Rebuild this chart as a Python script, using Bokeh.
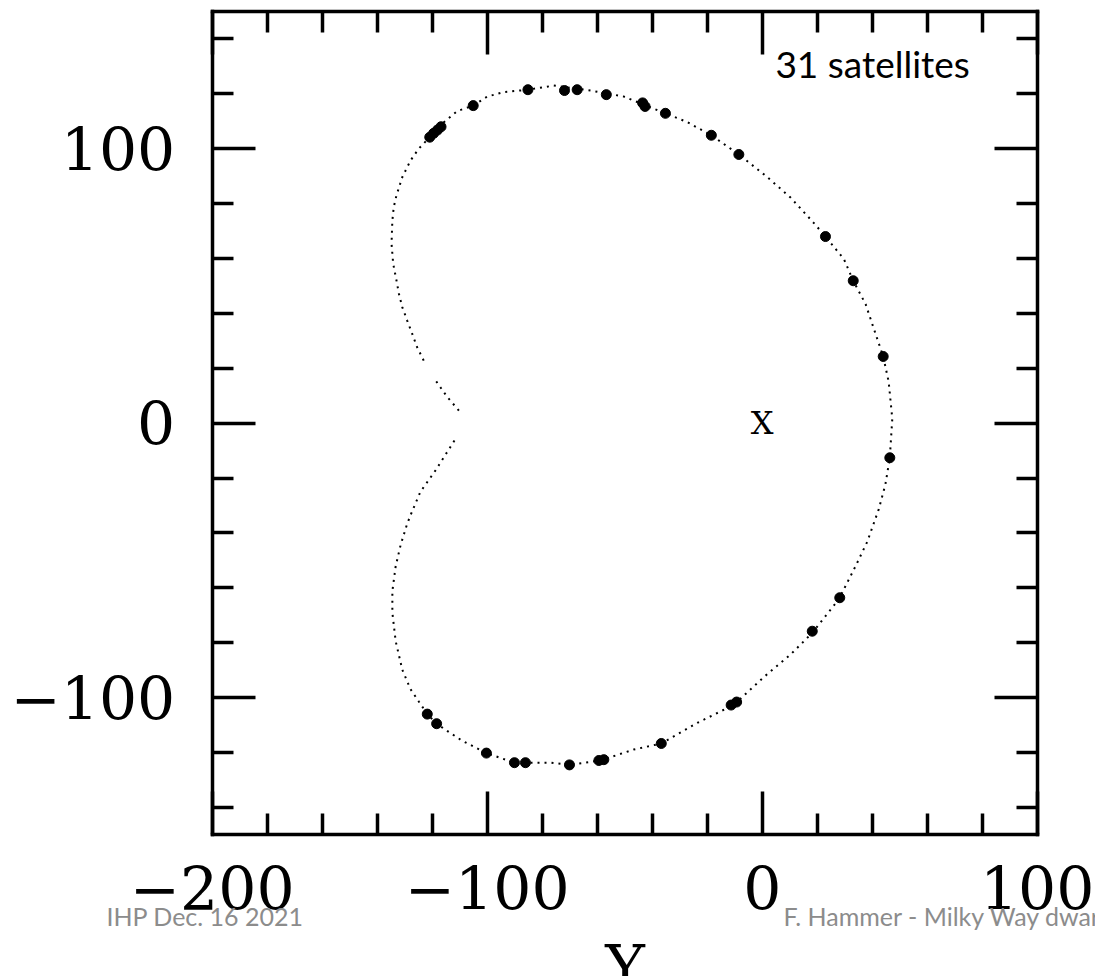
import numpy as np
from bokeh.plotting import figure
from bokeh.models import Range1d, LinearAxis, FixedTicker, Label, ColumnDataSource
from bokeh.embed import file_html
from bokeh.resources import INLINE
from bokeh.core.properties import value

# Projected orbit path (kpc); NaN marks a break in the sampled points
orbit_x = [-110.3, -114.5, -118.8, np.nan, -123.1, -125.5, -127.3, -129.1, -130.9,
           -132.1, -133.0, -134.2, -134.8, -134.5, -134.0, -133.0, -130.9, -127.9,
           -124.9, -120.9, -116.4, -110.9, -105.1, -100.0, -94.0, -85.2, -75.8,
           -62.4, -50.3, -43.2, -35.2, -27.3, -18.5, -8.5, 1.8, 10.3, 18.8, 23.0,
           29.7, 33.1, 37.6, 40.6, 44.0, 46.0, 47.3, 46.4, 44.8, 42.4, 38.2, 33.9,
           27.9, 18.2, 10.3, 0.6, -10.3, -23.6, -36.7, -46.7, -58.5, -70.1, -77.0,
           -86.1, -90.1, -100.3, -109.1, -114.0, -118.4, -121.8, -124.9, -127.9,
           -130.9, -133.3, -134.5, -134.5, -133.3, -131.5, -129.1, -127.3, -124.3,
           -118.8, -111.2]
orbit_y = [4.6, 9.5, 15.6, np.nan, 22.8, 27.7, 32.6, 37.4, 42.3,
           47.1, 52.0, 58.1, 65.4, 73.8, 78.7, 83.0, 89.6, 95.7,
           100.0, 104.2, 109.1, 113.7, 115.7, 119.0, 120.6, 121.5, 123.0,
           121.2, 119.0, 116.1, 112.9, 109.7, 104.9, 97.9, 89.7, 82.2, 72.9, 68.0,
           59.8, 51.9, 43.4, 34.4, 24.3, 15.0, 1.6, -12.6, -22.3, -31.3, -43.2, -52.2,
           -64.1, -76.4, -84.3, -92.5, -102.6, -109.2, -116.7, -118.9, -122.8, -124.5, -123.7,
           -123.7, -123.7, -120.2, -115.7, -112.5, -109.5, -106.0, -101.4, -96.9,
           -89.8, -79.4, -69.0, -61.2, -52.2, -44.4, -36.6, -32.1, -25.0,
           -17.2, -5.2]

# Satellite positions along the orbit
sat_x = [-120.9, -119.5, -118.1, -116.8, -105.1, -85.2, -71.9, -67.3, -56.7, -43.5,
         -42.6, -35.2, -18.5, -8.5, 23.0, 33.1, 44.0, 46.4, 28.2, 18.2,
         -11.3, -9.3, -36.7, -59.4, -57.6, -70.1, -86.1, -90.1, -100.3, -118.4, -121.8]
sat_y = [104.2, 105.6, 106.8, 108.0, 115.7, 121.5, 121.2, 121.5, 119.7, 116.7,
         115.4, 112.9, 104.9, 97.9, 68.0, 51.9, 24.3, -12.6, -63.6, -75.8,
         -102.7, -101.6, -116.7, -122.9, -122.6, -124.5, -123.7, -123.7, -120.2, -109.5, -106.0]

# Galactic centre marker
centre_x = [0]
centre_y = [0]
centre_text = ["X"]

# Box limits and ticks
x_box = (-200, 100)
y_box = (-150, 150)
x_major = [-200, -100, 0, 100]
x_minor = [-180, -160, -140, -120, -80, -60, -40, -20, 20, 40, 60, 80]
y_major = [-100, 0, 100]
y_minor = [-140, -120, -80, -60, -40, -20, 20, 40, 60, 80, 120, 140]
x_labels = {-200: "\u2212200", -100: "\u2212100", 0: "0", 100: "100"}
y_labels = {-100: "\u2212100", 0: "0", 100: "100"}
x_title = "Y"

n_label = "31 satellites"
footer_left = "IHP Dec. 16 2021"
footer_right = "F. Hammer - Milky Way dwarfs"

# The frame spans the whole canvas; the boxed axes sit at fixed locations inside it
p = figure(width=1095, height=976,
           x_range=Range1d(-277.0, 121.2), y_range=Range1d(-201.6, 154.0),
           output_backend="svg", toolbar_location=None,
           x_axis_location=None, y_axis_location=None, min_border=0)
p.outline_line_color = None
p.background_fill_color = "white"
p.border_fill_color = "white"
for g in p.grid:
    g.visible = False

TICK_FONT = "DejaVu Serif"


def make_axis(ticks, minor, bounds, loc, labels=None):
    ax = LinearAxis(ticker=FixedTicker(ticks=ticks, minor_ticks=minor),
                    bounds=bounds, fixed_location=loc)
    ax.axis_line_width = 3.5
    ax.axis_line_color = "black"
    ax.axis_line_cap = "square"
    ax.major_tick_line_width = 3.5
    ax.minor_tick_line_width = 3.5
    ax.major_tick_line_color = "black"
    ax.minor_tick_line_color = "black"
    ax.major_tick_in = 43
    ax.major_tick_out = 0
    ax.minor_tick_in = 21
    ax.minor_tick_out = 0
    ax.major_label_text_font = TICK_FONT
    ax.major_label_text_font_size = "60px"
    if labels is not None:
        ax.major_label_overrides = labels
        ax.major_label_text_color = "black"
    else:
        ax.major_label_text_color = None
    return ax


bottom = make_axis(x_major, x_minor, x_box, y_box[0], x_labels)
bottom.major_label_standoff = 31
bottom.axis_label = x_title
bottom.axis_label_text_font = TICK_FONT
bottom.axis_label_text_font_size = "60px"
bottom.axis_label_text_font_style = "normal"
bottom.axis_label_text_color = "black"
bottom.axis_label_standoff = 19

top = make_axis(x_major, x_minor, x_box, y_box[1])
left = make_axis(y_major, y_minor, y_box, x_box[0], y_labels)
left.major_label_standoff = 37
right = make_axis(y_major, y_minor, y_box, x_box[1])

p.add_layout(bottom, "below")
p.add_layout(top, "above")
p.add_layout(left, "left")
p.add_layout(right, "right")

orbit = ColumnDataSource(dict(x=np.array(orbit_x, dtype=float), y=np.array(orbit_y, dtype=float)))
p.line("x", "y", source=orbit, line_color="black", line_width=2,
       line_dash="2 5", line_cap="butt")

sats = ColumnDataSource(dict(x=sat_x, y=sat_y))
p.scatter("x", "y", source=sats, marker="circle", size=10,
          fill_color="black", line_color="black")

centre = ColumnDataSource(dict(x=centre_x, y=centre_y, t=centre_text))
p.text("x", "y", text="t", source=centre, text_font=value(TICK_FONT),
       text_font_size="32px", text_align="center", text_baseline="middle",
       text_color="black")

p.add_layout(Label(x=4.8, y=131.0, text=n_label, text_font="Lato",
                   text_font_size="37px", text_color="black",
                   text_baseline="alphabetic"))

p.add_layout(Label(x=106, y=61, x_units="screen", y_units="screen", text=footer_left,
                   text_font="Lato", text_font_size="25px", text_color="#8c8c8c",
                   text_baseline="alphabetic"))
p.add_layout(Label(x=783, y=61, x_units="screen", y_units="screen", text=footer_right,
                   text_font="Lato", text_font_size="25px", text_color="#8c8c8c",
                   text_baseline="alphabetic"))

open("out.html", "w").write(file_html(p, INLINE))
